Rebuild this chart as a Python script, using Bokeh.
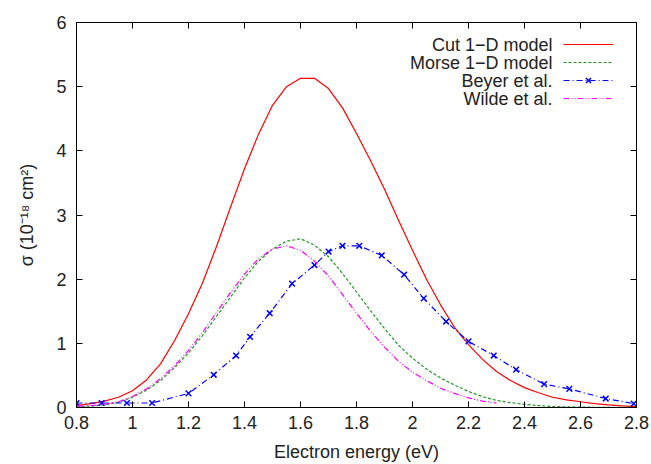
from bokeh.plotting import figure
from bokeh.models import (Legend, LegendItem, Label, LinearAxis, FixedTicker,
                          CustomJSTickFormatter, Range1d)
from bokeh.embed import file_html
from bokeh.resources import INLINE

# ---- data ----
model_x = [0.80, 0.85, 0.90, 0.95, 1.00, 1.05, 1.10, 1.15, 1.20, 1.25, 1.30, 1.35,
           1.40, 1.45, 1.50, 1.55, 1.60, 1.65, 1.70, 1.75, 1.80, 1.85, 1.90, 1.95,
           2.00, 2.05, 2.10, 2.15, 2.20, 2.25, 2.30, 2.35, 2.40, 2.45, 2.50, 2.55,
           2.60, 2.65, 2.70, 2.75, 2.80]
cut_y = [0.03, 0.06, 0.10, 0.16, 0.26, 0.43, 0.68, 1.04, 1.46, 1.94, 2.51, 3.12,
         3.72, 4.26, 4.71, 5.00, 5.13, 5.13, 4.97, 4.67, 4.27, 3.85, 3.40, 2.92,
         2.45, 2.00, 1.60, 1.25, 0.98, 0.75, 0.56, 0.42, 0.31, 0.23, 0.16, 0.12,
         0.09, 0.06, 0.04, 0.025, 0.015]
morse_y = [0.01, 0.02, 0.04, 0.08, 0.16, 0.27, 0.42, 0.62, 0.85, 1.12, 1.42, 1.72,
           2.02, 2.28, 2.47, 2.59, 2.63, 2.53, 2.35, 2.09, 1.80, 1.51, 1.23, 0.97,
           0.77, 0.60, 0.46, 0.35, 0.25, 0.17, 0.11, 0.075, 0.05, 0.03, 0.016, 0.01,
           0.006, 0.004, 0.002, 0.001, 0.0]
wilde_x = [0.80, 0.85, 0.90, 0.95, 1.00, 1.05, 1.10, 1.15, 1.20, 1.25, 1.30, 1.35,
           1.40, 1.45, 1.50, 1.55, 1.60, 1.65, 1.70, 1.75, 1.80, 1.85, 1.90, 1.95,
           2.00, 2.05, 2.10, 2.15, 2.20, 2.25, 2.30]
wilde_y = [0.02, 0.03, 0.05, 0.09, 0.17, 0.29, 0.45, 0.65, 0.89, 1.17, 1.48, 1.79,
           2.08, 2.32, 2.47, 2.52, 2.45, 2.28, 2.05, 1.76, 1.47, 1.19, 0.94, 0.72,
           0.55, 0.42, 0.30, 0.22, 0.15, 0.10, 0.07]
beyer_x = [0.80, 0.89, 0.98, 1.07, 1.20, 1.29, 1.37, 1.42, 1.49, 1.57, 1.65, 1.70,
           1.75, 1.81, 1.89, 1.97, 2.04, 2.12, 2.20, 2.29, 2.37, 2.47, 2.56, 2.69,
           2.79]
beyer_y = [0.07, 0.07, 0.07, 0.07, 0.22, 0.51, 0.81, 1.10, 1.47, 1.93, 2.22, 2.43,
           2.52, 2.52, 2.37, 2.07, 1.70, 1.34, 1.03, 0.81, 0.59, 0.365, 0.29, 0.14,
           0.06]
x_ticks = [0.8, 1.0, 1.2, 1.4, 1.6, 1.8, 2.0, 2.2, 2.4, 2.6, 2.8]
y_ticks = [0, 1, 2, 3, 4, 5, 6]
series_names = ["Cut 1\u2212D model", "Morse 1\u2212D model", "Beyer et al.", "Wilde et al."]

FONT = "Liberation Sans"
FS = "18px"
TXT = "#222222"

p = figure(width=651, height=464, output_backend="svg", toolbar_location=None,
           x_range=Range1d(0.8, 2.8), y_range=Range1d(0, 6),
           min_border_left=76, min_border_right=15, min_border_top=22, min_border_bottom=57)
p.grid.visible = False
p.outline_line_color = "black"
p.outline_line_width = 1
p.background_fill_color = "white"

fmt = CustomJSTickFormatter(code="return (Math.round(tick*10)/10).toString();")
blank = CustomJSTickFormatter(code="return '';")

def style_axis(ax, ticks, show_labels):
    ax.ticker = FixedTicker(ticks=ticks)
    ax.major_tick_in = 6
    ax.major_tick_out = 0
    ax.minor_tick_line_color = None
    ax.axis_line_color = "black"
    ax.major_tick_line_color = "black"
    ax.major_label_text_font = FONT
    ax.major_label_text_font_size = FS
    ax.major_label_text_color = TXT
    ax.axis_label_text_font = FONT
    ax.axis_label_text_font_size = FS
    ax.axis_label_text_font_style = "normal"
    ax.axis_label_text_color = TXT
    ax.formatter = fmt if show_labels else blank

style_axis(p.xaxis[0], x_ticks, True)
style_axis(p.yaxis[0], y_ticks, True)
p.xaxis[0].axis_label = "Electron energy (eV)"
p.xaxis[0].major_label_standoff = 8
p.xaxis[0].axis_label_standoff = 10
p.yaxis[0].axis_label = "\u03c3 (10\u207b\u00b9\u2078 cm\u00b2)"
p.yaxis[0].major_label_standoff = 10
p.yaxis[0].axis_label_standoff = 16

top_ax = LinearAxis()
style_axis(top_ax, x_ticks, False)
p.add_layout(top_ax, "above")
right_ax = LinearAxis()
style_axis(right_ax, y_ticks, False)
p.add_layout(right_ax, "right")
p.min_border_top = 22
p.min_border_right = 15

r_cut = p.line(model_x, cut_y, line_color="#ff0000", line_width=1.2)
r_morse = p.line(model_x, morse_y, line_color="#1f9a1f", line_width=1.2, line_dash="3 2")
r_beyer_l = p.line(beyer_x, beyer_y, line_color="#0000ff", line_width=1.2, line_dash="6 3 1 3")
r_beyer_m = p.scatter(beyer_x, beyer_y, marker="x", size=8, line_color="#0000ff", line_width=1.5)
r_wilde = p.line(wilde_x, wilde_y, line_color="#ff00ff", line_width=1.2, line_dash="6 2 1 2 1 2")

items = [
    LegendItem(label=" ", renderers=[r_cut]),
    LegendItem(label=" ", renderers=[r_morse]),
    LegendItem(label=" ", renderers=[r_beyer_l, r_beyer_m]),
    LegendItem(label=" ", renderers=[r_wilde]),
]
leg = Legend(items=items, location=(487, 300), glyph_width=50, glyph_height=18,
             spacing=0, padding=0, margin=0, label_standoff=0, label_width=0,
             label_height=0, label_text_font_size="10px", border_line_color=None,
             background_fill_alpha=0)
p.add_layout(leg, "center")

row_y = [363, 345, 327, 309]
for name, yy in zip(series_names, row_y):
    p.add_layout(Label(x=476, y=yy, x_units="screen", y_units="screen", text=name,
                       text_align="right", text_baseline="middle", text_font=FONT,
                       text_font_size=FS, text_color=TXT))

open("out.html", "w").write(file_html(p, INLINE))
